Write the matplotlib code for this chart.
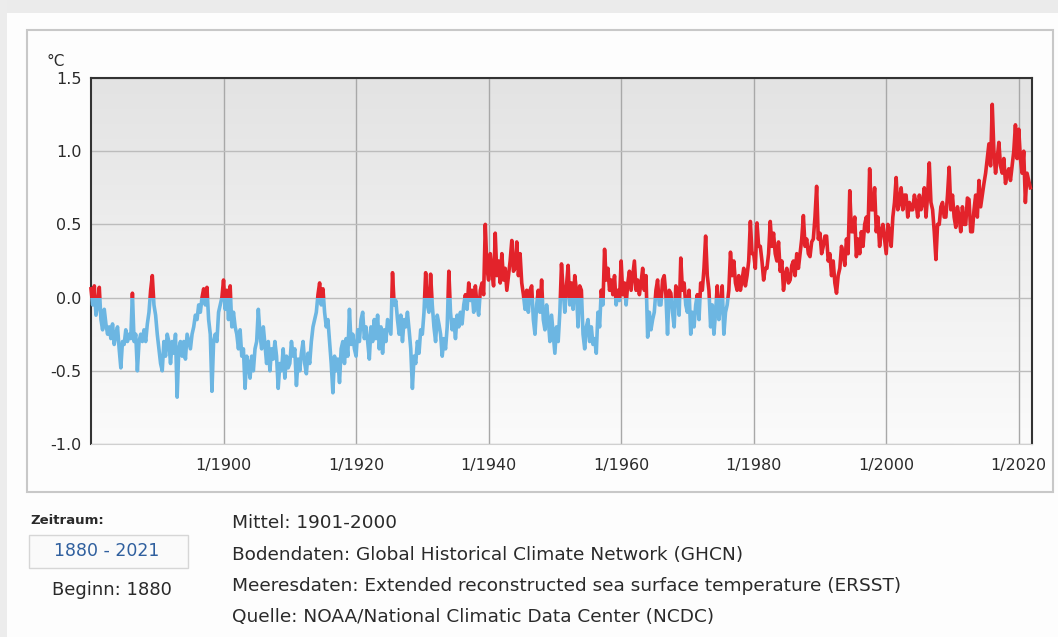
import numpy as np
import matplotlib.pyplot as plt
from matplotlib.patches import Rectangle
from matplotlib.colors import LinearSegmentedColormap

# Quartalswerte der Temperaturanomalie (°C, Mittel 1901-2000), ab 1/1880
start_year = 1880
anomaly = [
    0.06, -0.05, 0.08, -0.12,  -0.05, 0.07, -0.15, -0.22,  -0.08, -0.18, -0.25, -0.20,   # 1880-1882
    -0.28, -0.18, -0.32, -0.25,  -0.20, -0.35, -0.48, -0.30,  -0.32, -0.22, -0.30, -0.25,  # 1883-1885
    -0.28, 0.03, -0.30, -0.25,  -0.50, -0.30, -0.25, -0.30,  -0.22, -0.30, -0.18, -0.10,   # 1886-1888
    0.05, 0.15, -0.05, -0.12,  -0.25, -0.35, -0.45, -0.50,  -0.30, -0.40, -0.25, -0.30,    # 1889-1891
    -0.45, -0.30, -0.38, -0.25,  -0.68, -0.35, -0.30, -0.40,  -0.30, -0.42, -0.25, -0.30,  # 1892-1894
    -0.35, -0.25, -0.20, -0.12,  -0.15, -0.05, -0.10, 0.00,  0.06, -0.05, 0.07, -0.15,     # 1895-1897
    -0.25, -0.64, -0.30, -0.25,  -0.30, -0.10, -0.05, 0.00,  0.12, -0.08, 0.05, -0.15,     # 1898-1900
    0.08, -0.20, -0.10, -0.20,  -0.25, -0.35, -0.22, -0.40,  -0.35, -0.62, -0.40, -0.45,   # 1901-1903
    -0.55, -0.40, -0.50, -0.35,  -0.30, -0.08, -0.25, -0.35,  -0.20, -0.32, -0.45, -0.30,  # 1904-1906
    -0.50, -0.35, -0.42, -0.30,  -0.40, -0.62, -0.45, -0.50,  -0.35, -0.55, -0.40, -0.48,  # 1907-1909
    -0.45, -0.30, -0.40, -0.35,  -0.60, -0.42, -0.50, -0.38,  -0.30, -0.45, -0.52, -0.38,  # 1910-1912
    -0.45, -0.30, -0.20, -0.15,  -0.10, 0.02, 0.10, -0.05,  0.06, -0.10, -0.20, -0.15,     # 1913-1915
    -0.30, -0.45, -0.65, -0.40,  -0.50, -0.42, -0.58, -0.35,  -0.30, -0.45, -0.28, -0.40,  # 1916-1918
    -0.08, -0.32, -0.25, -0.35,  -0.40, -0.22, -0.30, -0.15,  -0.10, -0.28, -0.20, -0.30,  # 1919-1921
    -0.42, -0.20, -0.30, -0.15,  -0.28, -0.12, -0.35, -0.20,  -0.38, -0.22, -0.30, -0.15,  # 1922-1924
    -0.20, -0.25, 0.17, -0.05,  -0.02, -0.15, -0.25, -0.12,  -0.30, -0.15, -0.20, -0.10,   # 1925-1927
    -0.22, -0.35, -0.62, -0.40,  -0.45, -0.30, -0.38, -0.22,  -0.25, -0.10, 0.17, -0.05,   # 1928-1930
    -0.10, 0.16, -0.05, -0.20,  -0.30, -0.12, -0.18, -0.25,  -0.40, -0.28, -0.35, -0.20,   # 1931-1933
    0.18, -0.10, -0.22, -0.15,  -0.28, -0.12, -0.20, -0.10,  -0.18, -0.05, 0.02, -0.08,    # 1934-1936
    0.10, -0.02, 0.05, -0.10,  0.08, -0.05, -0.12, 0.05,  0.10, 0.02, 0.50, 0.20,          # 1937-1939
    0.12, 0.30, 0.18, 0.08,  0.44, 0.15, 0.25, 0.10,  0.30, 0.12, 0.20, 0.05,              # 1940-1942
    0.15, 0.25, 0.39, 0.18,  0.20, 0.38, 0.15, 0.30,  0.10, 0.02, -0.08, 0.05,             # 1943-1945
    -0.10, 0.05, 0.08, -0.15,  -0.25, -0.05, 0.05, -0.10,  0.12, -0.15, -0.22, -0.05,      # 1946-1948
    -0.15, -0.30, -0.12, -0.25,  -0.38, -0.20, -0.30, -0.10,  0.23, 0.05, -0.10, 0.08,     # 1949-1951
    0.22, -0.05, 0.10, -0.08,  0.15, 0.05, -0.20, 0.08,  0.05, -0.25, -0.35, -0.20,        # 1952-1954
    -0.15, -0.30, -0.20, -0.32,  -0.28, -0.38, -0.10, -0.20,  0.05, -0.05, 0.33, 0.12,     # 1955-1957
    0.20, 0.05, 0.12, 0.02,  0.15, -0.05, 0.05, -0.02,  0.25, 0.02, 0.10, -0.05,           # 1958-1960
    0.10, 0.18, 0.05, 0.15,  0.25, 0.05, 0.12, 0.02,  0.10, 0.20, 0.05, 0.15,              # 1961-1963
    -0.27, -0.10, -0.22, -0.15,  -0.10, 0.05, 0.12, -0.05,  -0.05, 0.12, 0.15, 0.02,       # 1964-1966
    -0.25, 0.05, 0.03, -0.10,  -0.20, 0.08, 0.05, -0.12,  0.27, 0.05, 0.10, -0.05,         # 1967-1969
    -0.10, 0.05, -0.25, -0.10,  -0.20, -0.05, 0.02, -0.15,  0.10, 0.05, 0.20, 0.42,        # 1970-1972
    0.15, 0.05, -0.20, -0.05,  -0.25, -0.10, 0.08, -0.15,  -0.05, 0.08, -0.25, -0.10,      # 1973-1975
    -0.05, 0.05, 0.31, 0.15,  0.25, 0.10, 0.05, 0.15,  0.05, 0.12, 0.20, 0.08,             # 1976-1978
    0.15, 0.25, 0.52, 0.30,  0.30, 0.20, 0.51, 0.35,  0.35, 0.25, 0.12, 0.20,              # 1979-1981
    0.20, 0.30, 0.52, 0.35,  0.44, 0.30, 0.25, 0.38,  0.18, 0.25, 0.05, 0.15,              # 1982-1984
    0.20, 0.10, 0.12, 0.22,  0.25, 0.15, 0.30, 0.20,  0.30, 0.40, 0.56, 0.35,              # 1985-1987
    0.40, 0.30, 0.28, 0.38,  0.40, 0.55, 0.76, 0.40,  0.44, 0.30, 0.35, 0.42,              # 1988-1990
    0.42, 0.25, 0.30, 0.15,  0.25, 0.10, 0.03, 0.15,  0.20, 0.35, 0.30, 0.22,              # 1991-1993
    0.40, 0.30, 0.73, 0.45,  0.45, 0.55, 0.28, 0.40,  0.30, 0.45, 0.35, 0.50,              # 1994-1996
    0.55, 0.45, 0.88, 0.60,  0.60, 0.75, 0.45, 0.55,  0.35, 0.45, 0.50, 0.40,              # 1997-1999
    0.30, 0.50, 0.45, 0.35,  0.55, 0.65, 0.82, 0.60,  0.65, 0.75, 0.60, 0.70,              # 2000-2002
    0.70, 0.55, 0.65, 0.60,  0.60, 0.70, 0.65, 0.55,  0.70, 0.60, 0.65, 0.75,              # 2003-2005
    0.55, 0.70, 0.92, 0.65,  0.60, 0.45, 0.26, 0.50,  0.50, 0.62, 0.65, 0.55,              # 2006-2008
    0.55, 0.70, 0.89, 0.60,  0.70, 0.55, 0.48, 0.62,  0.55, 0.45, 0.62, 0.50,              # 2009-2011
    0.50, 0.68, 0.67, 0.45,  0.45, 0.60, 0.70, 0.55,  0.80, 0.62, 0.70, 0.78,              # 2012-2014
    0.85, 0.95, 1.05, 0.90,  1.32, 1.00, 0.85, 0.95,  1.06, 0.90, 0.85, 0.95,              # 2015-2017
    0.78, 0.85, 0.88, 0.80,  0.90, 1.00, 1.18, 0.95,  1.15, 0.95, 0.85, 1.00,              # 2018-2020
    0.65, 0.85, 0.80, 0.75,                                                                # 2021
]
x_ticks = [1900, 1920, 1940, 1960, 1980, 2000, 2020]
x_labels = ['1/1900', '1/1920', '1/1940', '1/1960', '1/1980', '1/2000', '1/2020']
y_ticks = [-1.0, -0.5, 0.0, 0.5, 1.0, 1.5]
y_labels = ['-1.0', '-0.5', '0.0', '0.5', '1.0', '1.5']

info_lines = [
    'Mittel: 1901-2000',
    'Bodendaten: Global Historical Climate Network (GHCN)',
    'Meeresdaten: Extended reconstructed sea surface temperature (ERSST)',
    'Quelle: NOAA/National Climatic Data Center (NCDC)',
]

years = start_year + np.arange(len(anomaly)) / 4.0

W, H = 1058, 637
fig = plt.figure(figsize=(W / 100, H / 100), dpi=100)
fig.patch.set_facecolor('#fdfdfd')

# grauer Rand oben/links und Rahmen um das Diagramm
fig.add_artist(Rectangle((0, 1 - 13 / H), 1, 13 / H, transform=fig.transFigure,
                         facecolor='#ebebeb', edgecolor='none'))
fig.add_artist(Rectangle((0, 0), 7 / W, 1, transform=fig.transFigure,
                         facecolor='#ececec', edgecolor='none'))
fig.add_artist(Rectangle((27 / W, 1 - 492 / H), (1053 - 27) / W, (492 - 30) / H,
                         transform=fig.transFigure, fill=False,
                         edgecolor='#c8c8c8', lw=1.5))

ax = fig.add_axes([91 / W, 1 - 444 / H, (1032 - 91) / W, (444 - 78) / H])

# Hintergrundverlauf
bg = LinearSegmentedColormap.from_list('bg', ['#e3e3e3', '#fbfbfb'])
ax.imshow(np.linspace(0, 1, 256).reshape(-1, 1), cmap=bg, extent=[0, 1, 0, 1],
          transform=ax.transAxes, aspect='auto', zorder=0)

blue, = ax.plot(years, anomaly, color='#6cb6e2', lw=2.6, zorder=3)
red, = ax.plot(years, anomaly, color='#e3232b', lw=2.6, zorder=3)
red.set_clip_path(Rectangle((1800, 0), 400, 10, transform=ax.transData))
blue.set_clip_path(Rectangle((1800, -10), 400, 10, transform=ax.transData))

ax.set_xlim(1880, 2022)
ax.set_ylim(-1.0, 1.5)
ax.set_xticks(x_ticks, x_labels)
ax.set_yticks(y_ticks, y_labels)
ax.xaxis.grid(True, color='#a8a8a8', lw=1)
ax.yaxis.grid(True, color='#bcbcbc', lw=1)
ax.tick_params(length=0, labelsize=11.5, labelcolor='#2a2a2a')
ax.tick_params(axis='x', pad=10)
ax.tick_params(axis='y', pad=7)
for s in ['top', 'left', 'right']:
    ax.spines[s].set_color('#333333')
    ax.spines[s].set_linewidth(1.5)
ax.spines['bottom'].set_color('#d0d0d0')

fig.text(47 / W, 1 - 62 / H, '°C', fontsize=11, color='#2a2a2a', va='center')

# Bereich unten links
fig.text(30 / W, 1 - 521 / H, 'Zeitraum:', fontsize=9.5, fontweight='bold',
         color='#2a2a2a', va='center')
fig.add_artist(Rectangle((29 / W, 1 - 568 / H), (188 - 29) / W, (568 - 535) / H,
                         transform=fig.transFigure, facecolor='#fafafa',
                         edgecolor='#d6d6d6', lw=1))
fig.text(107 / W, 1 - 551 / H, '1880 - 2021', fontsize=12.5, color='#2f5f9e',
         ha='center', va='center')
fig.text(112 / W, 1 - 590 / H, 'Beginn: 1880', fontsize=13, color='#2a2a2a',
         ha='center', va='center')

for i, line in enumerate(info_lines):
    fig.text(232 / W, 1 - (523 + i * 31.5) / H, line, fontsize=13.3,
             color='#2a2a2a', va='center')

fig.savefig('out.png', dpi=100, facecolor=fig.get_facecolor())
